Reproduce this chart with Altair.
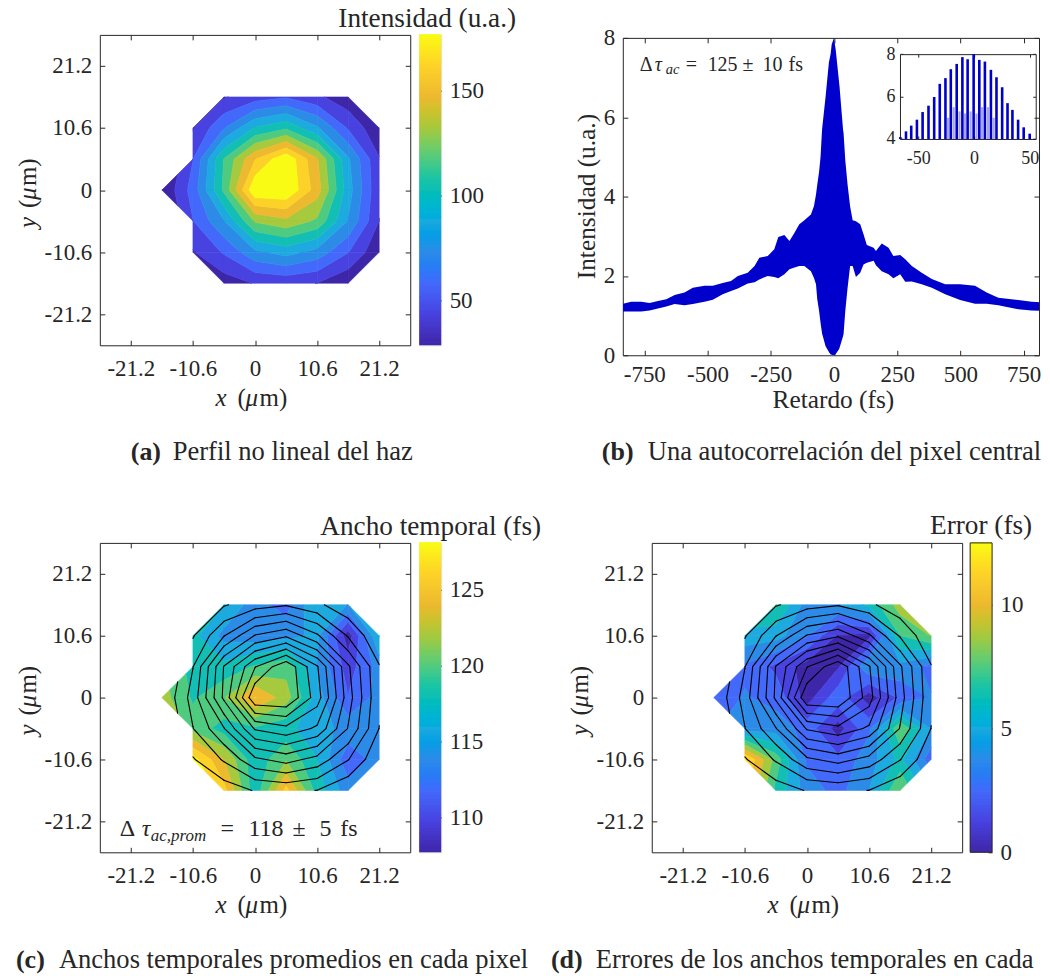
import altair as alt
import numpy as np
import pandas as pd

SERIF = "Liberation Serif"
INK = "#262626"
BLUE = "#0000cc"
N = None
XNODES = [-15.9, -10.6, -5.3, 0, 5.3, 10.6, 15.9, 21.2]
YNODES = [15.9, 10.6, 5.3, 0, -5.3, -10.6, -15.9]
CMAP = ["#3e26a8", "#4842e0", "#4369fb", "#2d8be8", "#1caadf", "#13bfb5",
        "#4fcb80", "#a6c93e", "#ecb92f", "#fdd228", "#f9fb15"]
TICKS = [-21.2, -10.6, 0, 10.6, 21.2]

INTENSITY = [
    [N, N, 42, 50, 55, 46, 34, N],
    [N, 42, 69, 97, 107, 85, 55, 32],
    [N, 56, 110, 148, 173, 137, 85, 44],
    [30, 62, 112, 174, 175, 142, 89, 45],
    [N, 56, 82, 124, 132, 120, 82, 43],
    [N, 42, 58, 80, 88, 78, 57, 32],
    [N, N, 36, 44, 46, 43, 32, N],
]
WIDTHS = [
    [N, N, 117, 114, 112.5, 117, 115, N],
    [N, 117.5, 114.5, 114, 114.5, 115.5, 108.5, 117],
    [N, 118, 117.5, 119, 120, 115, 110.5, 114],
    [121.5, 118.5, 120.5, 124.5, 121.5, 116, 111.5, 114],
    [N, 120, 118, 118.5, 117.5, 115.8, 114.5, 114],
    [N, 127, 122.5, 117.5, 120.5, 117, 112, 114],
    [N, N, 125, 117.5, 125, 118, 114, N],
]
ERRORS = [
    [N, N, 7, 4, 4.5, 6, 8.5, N],
    [N, 5.2, 5, 3.5, 1.0, 0.8, 6.8, 8],
    [N, 3.2, 2, 0.6, 1.0, 4.5, 4.2, 3],
    [2.8, 3.5, 3, 0.6, 3.0, 0.5, 2.5, 3.5],
    [N, 4, 4, 3, 0.6, 3.2, 7.8, 4.5],
    [N, 11.5, 7.5, 3.2, 2.6, 4, 6, 2.7],
    [N, N, 6.5, 4, 3, 4.5, 8, N],
]
LEVELS_A = [30 + 13.2 * k for k in range(1, 11)]
LEVELS_C = [107.7 + 1.85 * k for k in range(1, 11)]
LEVELS_D = [1.136 * k for k in range(1, 11)]

FS = [-834, -802, -762, -729, -696, -663, -630, -591, -558, -512, -479, -440, -407, -380, -341, -314,
      -295, -262, -236, -220, -196, -176, -156, -137, -117, -91, -79, -71, -66, -59, -53, -47, -33, -20,
      -13, -9, 0, 7, 20, 22, 36, 38, 45, 54, 64, 74, 87, 104, 117, 130, 157, 166, 189, 216, 235, 262,
      282, 308, 347, 387, 440, 499, 558, 604, 650, 729, 782, 835]
UPPER = [1.30, 1.35, 1.35, 1.32, 1.37, 1.41, 1.52, 1.58, 1.70, 1.755, 1.755, 1.82, 1.87, 2.0, 2.08, 2.25,
         2.46, 2.50, 2.67, 2.98, 3.03, 2.88, 3.09, 3.30, 3.40, 3.55, 3.76, 4.05, 4.3, 4.61, 5.0, 5.69, 6.52, 7.38,
         7.6, 7.83, 8.0, 7.7, 6.9, 6.78, 5.69, 5.6, 4.9, 4.3, 3.75, 3.4, 3.38, 3.30, 3.05, 2.78, 2.71, 2.63, 2.82,
         2.71, 2.50, 2.53, 2.42, 2.25, 2.08, 1.92, 1.79, 1.79, 1.75, 1.58, 1.45, 1.39, 1.35, 1.33]
LOWER = [1.10, 1.10, 1.10, 1.13, 1.18, 1.23, 1.29, 1.26, 1.29, 1.35, 1.40, 1.54, 1.62, 1.68, 1.81, 1.84,
         1.91, 2.0, 1.97, 1.94, 2.04, 2.17, 2.21, 2.25, 2.25, 2.12, 1.95, 1.79, 1.41, 1.13, 0.82, 0.55, 0.23, 0.08,
         0.02, 0.01, 0, 0.03, 0.15, 0.18, 0.48, 0.53, 1.12, 1.70, 2.25, 2.25, 1.97, 2.08, 2.29, 2.33, 2.38, 2.27,
         2.12, 2.04, 1.94, 2.04, 1.85, 1.86, 1.79, 1.70, 1.54, 1.39, 1.30, 1.30, 1.26, 1.16, 1.13, 1.12]

TEETH_X = [-66.1, -61, -56.3, -51.2, -46.1, -40.8, -35.7, -30.7, -25.6, -20.8, -15.5, -10.4, -5.7, -0.3, 4.8,
           9.8, 15.2, 20.2, 25.3, 30.1, 34.5, 39.6, 44.6, 50]
TEETH_Y = [4.09, 4.36, 4.63, 4.91, 5.27, 5.57, 5.98, 6.6, 6.87, 7.29, 7.54, 7.86, 7.76, 8, 7.73,
           7.65, 7.26, 6.91, 6.44, 5.69, 5.37, 4.91, 4.55, 4.25]
MID_X = [-23.2, -18.2, -13, -8, -3, 2.3, 7.3, 12.5, 17.7]
MID_Y = [5.0, 5.5, 5.3, 5.2, 5.3, 5.2, 5.5, 5.5, 5.0]

SP = {"labelFont": SERIF, "labelFontSize": 23, "labelColor": INK, "tickColor": INK, "domainColor": INK,
      "grid": False, "title": None}
NOSTROKE = alt.ViewBackground(strokeOpacity=0)


def clip(poly, lv, above):
    out = []
    for i, p in enumerate(poly):
        q = poly[(i + 1) % len(poly)]
        pin = (p[2] >= lv) if above else (p[2] <= lv)
        qin = (q[2] >= lv) if above else (q[2] <= lv)
        if pin:
            out.append(p)
        if pin != qin:
            t = (lv - p[2]) / (q[2] - p[2])
            out.append((p[0] + t * (q[0] - p[0]), p[1] + t * (q[1] - p[1]), lv))
    return out


def cells(mat):
    out = []
    for j in range(len(YNODES) - 1):
        for i in range(len(XNODES) - 1):
            c = [(i, j), (i + 1, j), (i + 1, j + 1), (i, j + 1)]
            pts = [(XNODES[a], YNODES[b], mat[b][a]) for a, b in c if mat[b][a] is not None]
            if len(pts) >= 3:
                out.append(pts)
    return out


def bands(mat, levels):
    rows, pid = [], 0
    edges = [-1e9] + list(levels) + [1e9]
    for cell in cells(mat):
        for b in range(len(edges) - 1):
            poly = clip(cell, edges[b], True)
            if poly:
                poly = clip(poly, edges[b + 1], False)
            if len(poly) >= 3:
                for o, p in enumerate(poly):
                    rows.append({"pid": pid, "o": o, "x": p[0], "y": p[1], "band": b})
                pid += 1
    return pd.DataFrame(rows)


def isolines(mat, levels):
    rows, sid = [], 0
    for cell in cells(mat):
        centre = sum(p[2] for p in cell) / len(cell)
        for lv in levels:
            pts = []
            for i in range(len(cell)):
                p, q = cell[i], cell[(i + 1) % len(cell)]
                if (p[2] - lv) * (q[2] - lv) < 0:
                    t = (lv - p[2]) / (q[2] - p[2])
                    pts.append((p[0] + t * (q[0] - p[0]), p[1] + t * (q[1] - p[1])))
            if len(pts) == 2:
                pairs = [(pts[0], pts[1])]
            elif len(pts) == 4:
                first_high = cell[0][2] > lv
                if first_high == (centre > lv):
                    pairs = [(pts[0], pts[1]), (pts[2], pts[3])]
                else:
                    pairs = [(pts[0], pts[3]), (pts[1], pts[2])]
            else:
                pairs = []
            for a, b in pairs:
                for o, p in enumerate((a, b)):
                    rows.append({"sid": sid, "o": o, "x": p[0], "y": p[1]})
                sid += 1
    return pd.DataFrame(rows)


def txt(px, py, s, size=20, style=None, weight=None, align="left", angle=None, color=INK, limit=None):
    kw = dict(font=SERIF, fontSize=size, align=align, baseline="middle", color=color)
    if style:
        kw["fontStyle"] = style
    if weight:
        kw["fontWeight"] = weight
    if angle is not None:
        kw["angle"] = angle
    if limit:
        kw["limit"] = limit
        kw["ellipsis"] = "\u200b"
    return alt.Chart(pd.DataFrame({"t": [s]})).mark_text(**kw).encode(
        x=alt.value(px), y=alt.value(py), text="t:N")


def inward(**k):
    d = dict(SP)
    d.update(tickSize={"expr": "-5"})
    d.update(k)
    return alt.Axis(**d)


def rule(x0, x1, y0, y1):
    return alt.Chart(pd.DataFrame({"k": [0]})).mark_rule(color=INK, strokeWidth=1).encode(
        x=alt.value(x0), x2=alt.value(x1), y=alt.value(y0), y2=alt.value(y1))


def xy_titles(ox, oy, pl, pb, pm):
    """x (um) and y (um) assembled from italic and upright pieces; page coordinates"""
    ty = pb + 52.5
    yx = pl - 72
    return [
        txt(pl + 116 - ox, ty - oy, "x", 25, "italic"),
        txt(pl + 138 - ox, ty - oy, "(", 25),
        txt(pl + 146 - ox, ty - oy, "μ", 25, "italic"),
        txt(pl + 160 - ox, ty - oy, "m)", 25),
        txt(yx - ox, pm + 38 - oy, "y", 25, "italic", angle=270),
        txt(yx - ox, pm + 18 - oy, "(", 25, angle=270),
        txt(yx - ox, pm + 10 - oy, "μ", 25, "italic", angle=270),
        txt(yx - ox, pm - 4 - oy, "m)", 25, angle=270),
    ]


def contour_panel(mat, levels, vw, h, ox, oy, x0=0, pw=311, over=None, extra=()):
    dom = [-26.5, 26.5]
    sx = alt.Scale(domain=dom, range=[x0, x0 + pw], nice=False, zero=False)
    sy = alt.Scale(domain=dom, nice=False, zero=False)
    xax = inward(orient="bottom", values=TICKS, labelExpr="''+datum.value", labelPadding=17)
    yax = inward(orient="left", offset=-x0, values=TICKS, labelExpr="''+datum.value", labelPadding=13)
    fill = alt.Chart(bands(mat, levels)).mark_line(interpolate="linear-closed", strokeWidth=0.6).encode(
        x=alt.X("x:Q", scale=sx, axis=xax),
        y=alt.Y("y:Q", scale=sy, axis=yax),
        detail="pid:N", order="o:Q",
        fill=alt.Fill("band:O", scale=alt.Scale(domain=list(range(11)), range=CMAP), legend=None),
        stroke=alt.Stroke("band:O", scale=alt.Scale(domain=list(range(11)), range=CMAP), legend=None))
    layers = [fill]
    if over is not None:
        layers.append(alt.Chart(isolines(over, LEVELS_A)).mark_line(color="#000000", strokeWidth=1.1, strokeCap="round").encode(
            x=alt.X("x:Q", scale=sx, axis=None),
            y=alt.Y("y:Q", scale=sy, axis=None),
            detail="sid:N", order="o:Q"))
    frame = alt.Chart(pd.DataFrame({"x": [0], "y": [0]})).mark_point(opacity=0).encode(
        x=alt.X("x:Q", scale=sx, axis=inward(orient="top", values=TICKS, labels=False)),
        y=alt.Y("y:Q", scale=sy, axis=inward(orient="right", offset=x0 + pw - vw, values=TICKS, labels=False)))
    layers.append(frame)
    layers += xy_titles(ox, oy, ox + x0, oy + h, oy + h / 2)
    layers += list(extra)
    return alt.layer(*layers).resolve_scale(x="independent", y="independent").resolve_axis(
        x="independent", y="independent").properties(width=vw, height=h, view=NOSTROKE)


def bar_data(vmin, vmax):
    e = np.linspace(vmin, vmax, 129)
    return pd.DataFrame({"a": e[:-1], "b": e[1:] + (vmax - vmin) / 400, "v": (e[:-1] + e[1:]) / 2})


def bar_fill(vmin, vmax):
    return alt.Fill("v:Q", scale=alt.Scale(domain=list(np.linspace(vmin, vmax, 11)), range=CMAP), legend=None)


def colorbar(vmin, vmax, ticks, h, title, tx, w=22):
    base = alt.Chart(bar_data(vmin, vmax)).mark_rect().encode(
        y=alt.Y("a:Q", scale=alt.Scale(domain=[vmin, vmax], nice=False, zero=False),
                axis=inward(orient="right", values=ticks, labelPadding=12, tickSize={"expr": "-4"},
                            labelExpr="''+datum.value", domain=False)),
        y2="b:Q", fill=bar_fill(vmin, vmax))
    return alt.layer(base, txt(tx, -16, title, 27.3, align="center")).properties(width=w, height=h)


def caption(ox, oy, ax, tx, py, lab, text, limit=None):
    return [txt(ax - ox, py + 1 - oy, lab, 26, weight="bold"), txt(tx - ox, py + 1 - oy, text, 26.6, limit=limit)]


def annotation_c():
    o = (100, 544)
    pieces = [(120, 0, "Δ", 24, None), (142, 0, "τ", 24, "italic"), (151, 7, "ac,prom", 17, "italic"),
              (221, 0, "=", 24, None), (249, 0, "118", 24, None), (293, 0, "±", 24, None),
              (320, 0, "5", 24, None), (341, 0, "fs", 24, None)]
    return [txt(x - o[0], 831 + d - o[1], s, z, st) for x, d, s, z, st in pieces]


# ---- panels
A = contour_panel(INTENSITY, LEVELS_A, 311, 311, 100, 35,
                  extra=caption(100, 35, 131, 173, 452, "(a)", "Perfil no lineal del haz"))
C = contour_panel(WIDTHS, LEVELS_C, 311, 310, 100, 544, over=INTENSITY,
                  extra=annotation_c() + caption(100, 544, 16, 59, 961, "(c)", "Anchos temporales promedios en cada pixel"))
CA = colorbar(28.6, 176.7, [50, 100, 150], 311, "Intensidad (u.a.)", 8)
CC = colorbar(107.7, 128.1, [110, 115, 120, 125], 310, "Ancho temporal (fs)", 11.5)

# ---- panel (d) shares a view with its colour bar; the column is shared with panel (b)
VW = 417
DX0 = 29
CX0, CX1 = 348, 370
EMIN, EMAX = 0, 12.5
d_bar = alt.Chart(bar_data(EMIN, EMAX)).mark_rect().encode(
    x=alt.value(CX0), x2=alt.value(CX1),
    y=alt.Y("a:Q", scale=alt.Scale(domain=[EMIN, EMAX], nice=False, zero=False),
            axis=inward(orient="right", offset=CX1 - VW, values=[0, 5, 10], labelPadding=12, tickSize={"expr": "-4"},
                        labelExpr="''+datum.value", domain=False)),
    y2="b:Q", fill=bar_fill(EMIN, EMAX))
D = contour_panel(ERRORS, LEVELS_D, VW, 310, 624, 544, x0=DX0, over=INTENSITY,
                  extra=[d_bar, rule(CX0, CX1, 0, 0), rule(CX0, CX1, 310, 310), rule(CX0, CX0, 0, 310), rule(CX1, CX1, 0, 310),
                         txt(983 - 624, -17, "Error (fs)", 27.3, align="center")]
                  + caption(624, 544, 552, 597, 961, "(d)", "Errores de los anchos temporales en cada pixel", limit=444))

# ---- panel (b): the view spans y 35..356 of the page, the plot box starts 3px lower
BH, BTOP = 321, 3
bx = [-835, 811]
by = alt.Scale(domain=[0, 8], range=[BH, BTOP], nice=False, zero=False)
TICKS_BX = list(range(-750, 751, 250))
envelope = alt.Chart(pd.DataFrame({"t": FS, "u": UPPER, "l": LOWER})).mark_area(color=BLUE, clip=True).encode(
    x=alt.X("t:Q", scale=alt.Scale(domain=bx, nice=False, zero=False),
            axis=inward(orient="bottom", values=TICKS_BX, labelPadding=13,
                        labelExpr="''+datum.value")),
    y=alt.Y("l:Q", scale=by,
            axis=inward(orient="left", values=[0, 2, 4, 6, 8], labelPadding=13,
                        labelExpr="''+datum.value")),
    y2="u:Q")
b_frame = alt.Chart(pd.DataFrame({"x": [0], "y": [0]})).mark_point(opacity=0).encode(
    x=alt.X("x:Q", scale=alt.Scale(domain=bx, nice=False, zero=False),
            axis=inward(orient="top", offset=-BTOP, values=TICKS_BX, labels=False)),
    y=alt.Y("y:Q", scale=by, axis=inward(orient="right", values=[0, 2, 4, 6, 8], labels=False)))

IX0, IX1, IY0, IY1 = 277.7, 413.7, 19.3, 104.3
ix = alt.Scale(domain=[-66.4, 55.4], range=[IX0, IX1], nice=False, zero=False)
iy = alt.Scale(domain=[4, 8], range=[IY1, IY0], nice=False, zero=False)
teeth = alt.Chart(pd.DataFrame({"t": TEETH_X, "v": TEETH_Y, "b": [4] * len(TEETH_X)})).mark_rule(
    color=BLUE, strokeWidth=2.6).encode(
    x=alt.X("t:Q", scale=ix, axis=inward(orient="bottom", offset=IY1 - BH, values=[-50, 0, 50], labelPadding=14,
                                         labelFontSize=18, tickSize={"expr": "-3"}, labelExpr="''+datum.value")),
    y=alt.Y("v:Q", scale=iy, axis=inward(orient="left", offset=-IX0, values=[4, 6, 8], labelPadding=8,
                                         labelFontSize=18, tickSize={"expr": "-3"}, labelExpr="''+datum.value")),
    y2="b:Q")
mids = alt.Chart(pd.DataFrame({"t": MID_X, "v": MID_Y, "b": [4] * len(MID_X)})).mark_rule(
    color=BLUE, strokeWidth=2.2, opacity=0.35).encode(
    x=alt.X("t:Q", scale=ix, axis=inward(orient="top", offset=-IY0, values=[-50, 0, 50], labels=False,
                                         tickSize={"expr": "-3"})),
    y=alt.Y("v:Q", scale=iy, axis=inward(orient="right", offset=IX1 - VW, values=[4, 6, 8], labels=False,
                                         tickSize={"expr": "-3"})),
    y2="b:Q")
bo = (624, 35)
b_pieces = [(641, 0, "Δ", 20, None), (656, 0, "τ", 20, "italic"), (667, 5, "ac", 14.5, "italic"),
            (687, 0, "=", 20, None), (709, 0, "125", 20, None), (744, 0, "±", 20, None),
            (764, 0, "10", 20, None), (790, 0, "fs", 20, None)]
b_text = [txt(x - bo[0], 65 + d - bo[1], s, z, st) for x, d, s, z, st in b_pieces] + [
    txt(835 - bo[0], 401 - bo[1], "Retardo (fs)", 25.4, align="center"),
    txt(588 - bo[0], 197 - bo[1], "Intensidad (u.a.)", 25.4, align="center", angle=270),
] + caption(bo[0], bo[1], 603, 649, 452, "(b)", "Una autocorrelación del pixel central")
B = alt.layer(envelope, b_frame, teeth, mids, *b_text).resolve_scale(x="independent", y="independent").resolve_axis(
    x="independent", y="independent").properties(width=VW, height=BH, view=NOSTROKE)


def gap(w):
    return alt.Chart(pd.DataFrame({"t": [""]})).mark_text().encode(
        x=alt.value(0), y=alt.value(0), text="t:N").properties(width=w, height=1, view=NOSTROKE)


chart = alt.concat(
    A, gap(9), CA, gap(182), B,
    C, gap(9), CC, gap(182), D,
    columns=5, spacing={"column": 0, "row": 188}, bounds="flush",
    align={"column": "none", "row": "each"},
).properties(
    padding={"left": 8, "top": -5, "right": 0, "bottom": 0}
).configure_view(stroke=INK, strokeWidth=1).configure(background="white")

chart.save("out.html", embed_options={"renderer": "svg", "actions": False})
